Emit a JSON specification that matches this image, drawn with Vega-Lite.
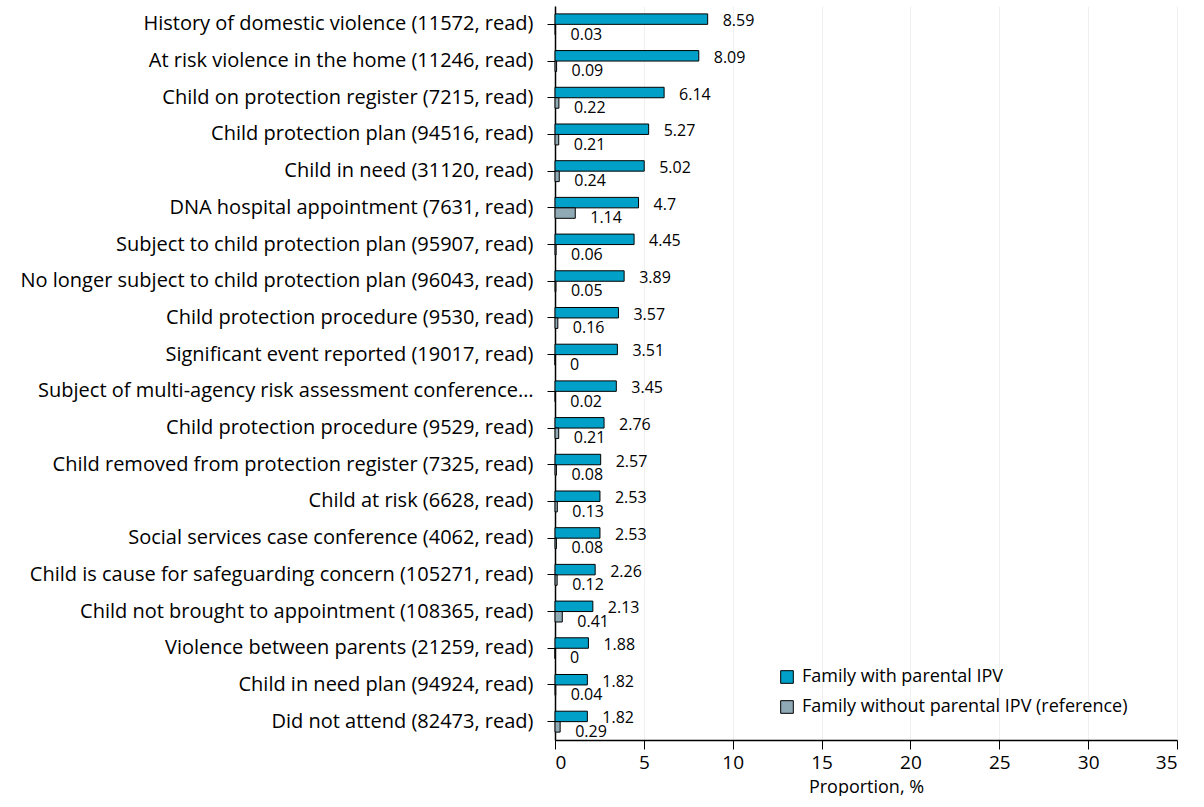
{
  "$schema": "https://vega.github.io/schema/vega-lite/v6.json",
  "width": 622,
  "height": 734,
  "padding": {"left": 19, "top": 6, "right": 20, "bottom": 0},
  "background": "white",
  "config": {
    "font": "Open Sans",
    "view": {"stroke": null},
    "axis": {"labelColor": "black", "titleColor": "black", "domainColor": "black", "tickColor": "black"}
  },
  "data": {
    "values": [
      {"event": "History of domestic violence (11572, read)", "order": 1, "series": "Family with parental IPV", "value": 8.59},
      {"event": "History of domestic violence (11572, read)", "order": 1, "series": "Family without parental IPV (reference)", "value": 0.03},
      {"event": "At risk violence in the home (11246, read)", "order": 2, "series": "Family with parental IPV", "value": 8.09},
      {"event": "At risk violence in the home (11246, read)", "order": 2, "series": "Family without parental IPV (reference)", "value": 0.09},
      {"event": "Child on protection register (7215, read)", "order": 3, "series": "Family with parental IPV", "value": 6.14},
      {"event": "Child on protection register (7215, read)", "order": 3, "series": "Family without parental IPV (reference)", "value": 0.22},
      {"event": "Child protection plan (94516, read)", "order": 4, "series": "Family with parental IPV", "value": 5.27},
      {"event": "Child protection plan (94516, read)", "order": 4, "series": "Family without parental IPV (reference)", "value": 0.21},
      {"event": "Child in need (31120, read)", "order": 5, "series": "Family with parental IPV", "value": 5.02},
      {"event": "Child in need (31120, read)", "order": 5, "series": "Family without parental IPV (reference)", "value": 0.24},
      {"event": "DNA hospital appointment (7631, read)", "order": 6, "series": "Family with parental IPV", "value": 4.7},
      {"event": "DNA hospital appointment (7631, read)", "order": 6, "series": "Family without parental IPV (reference)", "value": 1.14},
      {"event": "Subject to child protection plan (95907, read)", "order": 7, "series": "Family with parental IPV", "value": 4.45},
      {"event": "Subject to child protection plan (95907, read)", "order": 7, "series": "Family without parental IPV (reference)", "value": 0.06},
      {"event": "No longer subject to child protection plan (96043, read)", "order": 8, "series": "Family with parental IPV", "value": 3.89},
      {"event": "No longer subject to child protection plan (96043, read)", "order": 8, "series": "Family without parental IPV (reference)", "value": 0.05},
      {"event": "Child protection procedure (9530, read)", "order": 9, "series": "Family with parental IPV", "value": 3.57},
      {"event": "Child protection procedure (9530, read)", "order": 9, "series": "Family without parental IPV (reference)", "value": 0.16},
      {"event": "Significant event reported (19017, read)", "order": 10, "series": "Family with parental IPV", "value": 3.51},
      {"event": "Significant event reported (19017, read)", "order": 10, "series": "Family without parental IPV (reference)", "value": 0},
      {"event": "Subject of multi-agency risk assessment conference…", "order": 11, "series": "Family with parental IPV", "value": 3.45},
      {"event": "Subject of multi-agency risk assessment conference…", "order": 11, "series": "Family without parental IPV (reference)", "value": 0.02},
      {"event": "Child protection procedure (9529, read)", "order": 12, "series": "Family with parental IPV", "value": 2.76},
      {"event": "Child protection procedure (9529, read)", "order": 12, "series": "Family without parental IPV (reference)", "value": 0.21},
      {"event": "Child removed from protection register (7325, read)", "order": 13, "series": "Family with parental IPV", "value": 2.57},
      {"event": "Child removed from protection register (7325, read)", "order": 13, "series": "Family without parental IPV (reference)", "value": 0.08},
      {"event": "Child at risk (6628, read)", "order": 14, "series": "Family with parental IPV", "value": 2.53},
      {"event": "Child at risk (6628, read)", "order": 14, "series": "Family without parental IPV (reference)", "value": 0.13},
      {"event": "Social services case conference (4062, read)", "order": 15, "series": "Family with parental IPV", "value": 2.53},
      {"event": "Social services case conference (4062, read)", "order": 15, "series": "Family without parental IPV (reference)", "value": 0.08},
      {"event": "Child is cause for safeguarding concern (105271, read)", "order": 16, "series": "Family with parental IPV", "value": 2.26},
      {"event": "Child is cause for safeguarding concern (105271, read)", "order": 16, "series": "Family without parental IPV (reference)", "value": 0.12},
      {"event": "Child not brought to appointment (108365, read)", "order": 17, "series": "Family with parental IPV", "value": 2.13},
      {"event": "Child not brought to appointment (108365, read)", "order": 17, "series": "Family without parental IPV (reference)", "value": 0.41},
      {"event": "Violence between parents (21259, read)", "order": 18, "series": "Family with parental IPV", "value": 1.88},
      {"event": "Violence between parents (21259, read)", "order": 18, "series": "Family without parental IPV (reference)", "value": 0},
      {"event": "Child in need plan (94924, read)", "order": 19, "series": "Family with parental IPV", "value": 1.82},
      {"event": "Child in need plan (94924, read)", "order": 19, "series": "Family without parental IPV (reference)", "value": 0.04},
      {"event": "Did not attend (82473, read)", "order": 20, "series": "Family with parental IPV", "value": 1.82},
      {"event": "Did not attend (82473, read)", "order": 20, "series": "Family without parental IPV (reference)", "value": 0.29}
    ]
  },
  "encoding": {
    "y": {
      "field": "event",
      "type": "nominal",
      "sort": {"field": "order", "op": "min", "order": "ascending"},
      "scale": {"paddingInner": 0.43, "paddingOuter": 0.215},
      "axis": {"title": null, "labelFontSize": 20, "labelLimit": 700, "tickSize": 8, "labelPadding": 14, "grid": false, "domainWidth": 1.5}
    },
    "yOffset": {"field": "series", "type": "nominal", "sort": ["Family with parental IPV", "Family without parental IPV (reference)"]},
    "x": {
      "field": "value",
      "type": "quantitative",
      "scale": {"domain": [0, 35], "nice": false},
      "axis": {"title": "Proportion, %", "titleFontSize": 18, "titleFontWeight": "normal", "titlePadding": 6, "labelFontSize": 19, "values": [0, 5, 10, 15, 20, 25, 30, 35], "tickSize": 9, "labelPadding": 4, "grid": true, "gridColor": "#f0f0f0", "domainWidth": 1.5}
    }
  },
  "layer": [
    {
      "mark": {"type": "bar", "stroke": "black", "strokeWidth": 1},
      "encoding": {
        "color": {
          "field": "series",
          "type": "nominal",
          "sort": ["Family with parental IPV", "Family without parental IPV (reference)"],
          "scale": {"range": ["#00A0C8", "#8FA9B5"]},
          "legend": {
            "title": null,
            "orient": "none",
            "legendX": 223,
            "legendY": 662,
            "symbolType": "square",
            "symbolSize": 160,
            "symbolStrokeColor": "black",
            "symbolStrokeWidth": 1,
            "symbolOpacity": 1,
            "labelFontSize": 18,
            "labelLimit": 500,
            "labelColor": "black",
            "rowPadding": 12,
            "labelOffset": 6
          }
        }
      }
    },
    {
      "transform": [{"filter": "datum.series == 'Family with parental IPV'"}],
      "mark": {"type": "text", "align": "left", "baseline": "middle", "dx": 15, "dy": 2, "fontSize": 16, "color": "black"},
      "encoding": {"text": {"field": "value", "type": "quantitative", "format": ".3~r"}}
    },
    {
      "transform": [{"filter": "datum.series != 'Family with parental IPV'"}],
      "mark": {"type": "text", "align": "left", "baseline": "middle", "dx": 15, "dy": 5, "fontSize": 16, "color": "black"},
      "encoding": {"text": {"field": "value", "type": "quantitative", "format": ".3~r"}}
    }
  ]
}
